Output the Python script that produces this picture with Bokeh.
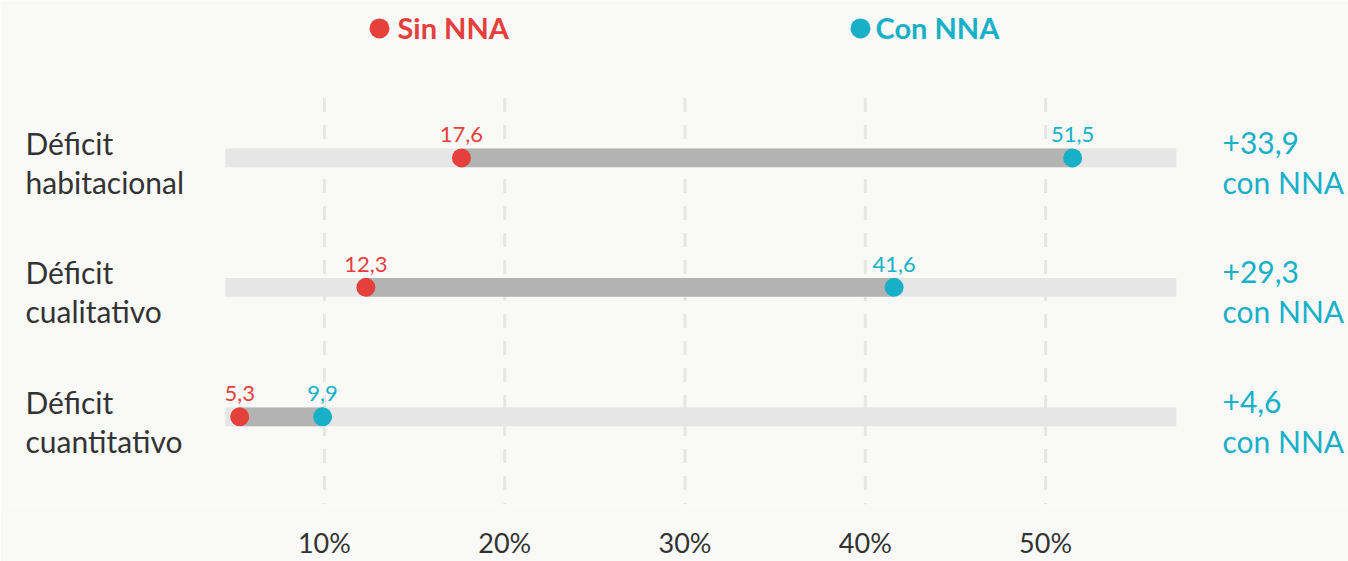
from bokeh.plotting import figure
from bokeh.models import Range1d, FixedTicker, PrintfTickFormatter, ColumnDataSource
from bokeh.core.properties import value
from bokeh.embed import file_html
from bokeh.resources import INLINE

# ---- data ----
categories = ["Déficit habitacional", "Déficit cualitativo", "Déficit cuantitativo"]
sin_nna = [17.6, 12.3, 5.3]
con_nna = [51.5, 41.6, 9.9]
series_names = ["Sin NNA", "Con NNA"]
ticks = [10, 20, 30, 40, 50]

# ---- styles / layout ----
BG = "#f9f9f7"
RED = "#e5403c"
TEAL = "#17b0c7"
TRACK = "#e6e6e6"
SPAN = "#b3b3b3"
GRID = "#e6e6e6"
TXT = "#333333"
FONT = "Lato"

W, H = 1348, 561
BOTTOM_BORDER = 55
FRAME_H = H - BOTTOM_BORDER
X_START, X_END = -7.965, 66.80
TRACK_START, TRACK_END = 4.5, 57.25
ROW_PX = 130.0
Y_TOP, Y_BOT = -158 / ROW_PX, 2 + (FRAME_H - 418) / ROW_PX
GRID_TOP, GRID_BOT = Y_TOP + 98 / ROW_PX, Y_BOT
BAR_H = 19 / ROW_PX
PPU_X = W / (X_END - X_START)

def fmt(v):
    return f"{v:.1f}".replace(".", ",")

rows = list(range(len(categories)))
src = ColumnDataSource(dict(
    y=rows,
    sin=sin_nna,
    con=con_nna,
    sin_lbl=[fmt(v) for v in sin_nna],
    con_lbl=[fmt(v) for v in con_nna],
    line1=[c.split(" ", 1)[0] for c in categories],
    line2=[c.split(" ", 1)[1] for c in categories],
    diff1=["+" + fmt(c - s) for s, c in zip(sin_nna, con_nna)],
    diff2=["con NNA"] * len(categories),
    xl=[X_START] * len(categories),
    xr=[X_END] * len(categories),
    ts=[TRACK_START] * len(categories),
    te=[TRACK_END] * len(categories),
))

p = figure(width=W, height=H, output_backend="svg", toolbar_location=None,
           x_range=Range1d(X_START, X_END), y_range=Range1d(Y_BOT, Y_TOP),
           min_border_left=0, min_border_right=0, min_border_top=0,
           min_border_bottom=BOTTOM_BORDER)
p.background_fill_color = BG
p.border_fill_color = BG
p.outline_line_color = None
p.xgrid.visible = False
p.ygrid.visible = False
p.yaxis.visible = False

ax = p.xaxis[0]
ax.ticker = FixedTicker(ticks=ticks)
ax.formatter = PrintfTickFormatter(format="%d%%")
ax.axis_line_color = None
ax.major_tick_line_color = None
ax.minor_tick_line_color = None
ax.major_label_text_font = FONT
ax.major_label_text_font_size = "27px"
ax.major_label_text_color = TXT
ax.major_label_standoff = 15

# dashed grid lines at tick values
p.segment(x0=ticks, x1=ticks, y0=[GRID_TOP] * len(ticks), y1=[GRID_BOT] * len(ticks),
          line_color=GRID, line_width=3, line_dash="14 13")

# track bars
p.hbar(y="y", left="ts", right="te", height=BAR_H, source=src,
       fill_color=TRACK, line_color=None)
# span between values
p.hbar(y="y", left="sin", right="con", height=BAR_H, source=src,
       fill_color=SPAN, line_color=None)

# dots
p.scatter(x="sin", y="y", size=19, source=src, fill_color=RED, line_color=None)
p.scatter(x="con", y="y", size=19, source=src, fill_color=TEAL, line_color=None)

# value labels
common = dict(text_font=value(FONT), text_font_size="22px", text_align="center",
              text_baseline="alphabetic", y_offset=-23, source=src)
p.text(x="sin", y="y", text="sin_lbl", text_color=RED, **common)
p.text(x="con", y="y", text="con_lbl", text_color=TEAL, **common)

# left category labels
lab = dict(text_font=value(FONT), text_font_size="30px", text_align="left",
           text_baseline="alphabetic", source=src)
p.text(x="xl", y="y", text="line1", x_offset=25, y_offset=-15, text_color=TXT, **lab)
p.text(x="xl", y="y", text="line2", x_offset=25, y_offset=24, text_color=TXT, **lab)

# right difference labels
p.text(x="xr", y="y", text="diff1", x_offset=-126, y_offset=-15, text_color=TEAL, **lab)
p.text(x="xr", y="y", text="diff2", x_offset=-126, y_offset=24, text_color=TEAL, **lab)

# legend (top)
leg_src = ColumnDataSource(dict(
    x=[X_START, X_START], y=[Y_TOP, Y_TOP], name=series_names, color=[RED, TEAL],
    dot_x=[X_START + 379 / PPU_X, X_START + 860 / PPU_X],
    dot_y=[Y_TOP + 28 / ROW_PX] * 2,
    txt_off=[397, 875],
))
p.scatter(x="dot_x", y="dot_y", size=20, source=leg_src, fill_color="color", line_color=None)
p.text(x="x", y="y", text="name", x_offset="txt_off", y_offset=27, source=leg_src,
       text_color="color", text_font=value(FONT), text_font_size="29px",
       text_font_style="bold", text_align="left", text_baseline="alphabetic")

open("out.html", "w").write(file_html(p, INLINE))
